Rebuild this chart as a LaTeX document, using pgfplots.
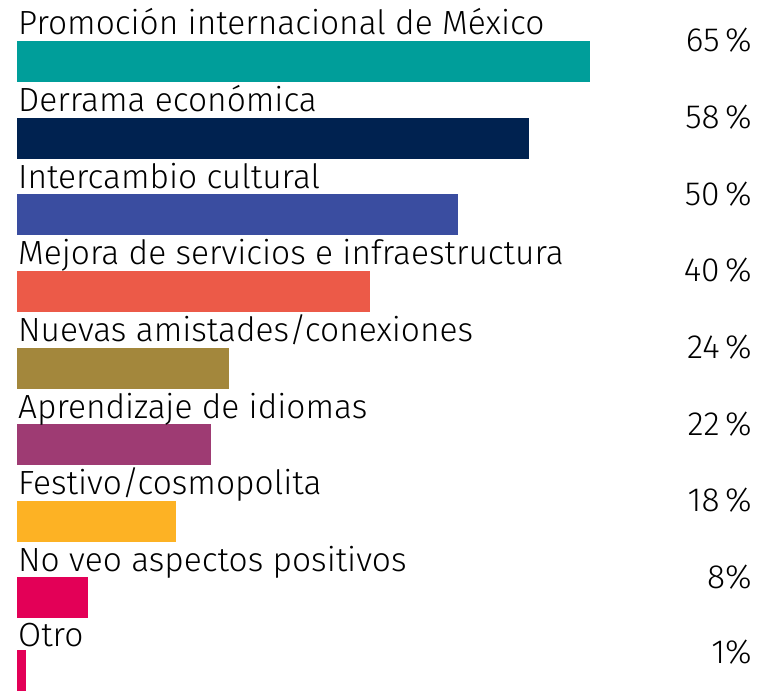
\documentclass[border=0pt]{standalone}
\usepackage{pgfplots}
\pgfplotsset{compat=1.18}
\usepackage{fontspec}
\setmainfont{Fira Sans}[UprightFont=* Light]
\definecolor{c1}{RGB}{0,158,154}
\definecolor{c2}{RGB}{0,34,80}
\definecolor{c3}{RGB}{58,77,160}
\definecolor{c4}{RGB}{236,90,72}
\definecolor{c5}{RGB}{163,135,60}
\definecolor{c6}{RGB}{158,59,115}
\definecolor{c7}{RGB}{253,178,36}
\definecolor{c8}{RGB}{227,0,87}
\definecolor{c9}{RGB}{227,0,87}
\begin{document}
\begin{tikzpicture}
\begin{axis}[
  scale only axis, width=759pt, height=691pt,
  xmin=-1.927, xmax=84.13, ymin=-691, ymax=0,
  hide axis, xbar, bar width=41pt, bar shift=0pt,
  every axis plot/.append style={draw=none},
]
\path (rel axis cs:0,0) rectangle (rel axis cs:1,1);
\addplot[fill=c1] coordinates {(65,-61.5)};
\addplot[fill=c2] coordinates {(58,-138.3)};
\addplot[fill=c3] coordinates {(50,-214.9)};
\addplot[fill=c4] coordinates {(40,-291.5)};
\addplot[fill=c5] coordinates {(24,-368.1)};
\addplot[fill=c6] coordinates {(22,-444.7)};
\addplot[fill=c7] coordinates {(18,-521.3)};
\addplot[fill=c8] coordinates {(8,-597.9)};
\addplot[fill=c9] coordinates {(1,-670.5)};
\begin{scope}[every node/.style={inner sep=0pt, font=\fontsize{33.5}{40}\selectfont}]
\node[anchor=base west] at (axis cs:0.11,-35) {Promoción internacional de México};
\node[anchor=base west] at (axis cs:0.11,-111.8) {Derrama económica};
\node[anchor=base west] at (axis cs:0.11,-188.4) {Intercambio cultural};
\node[anchor=base west] at (axis cs:0.11,-265) {Mejora de servicios e infraestructura};
\node[anchor=base west] at (axis cs:0.11,-341.6) {Nuevas amistades/conexiones};
\node[anchor=base west] at (axis cs:0.11,-418.2) {Aprendizaje de idiomas};
\node[anchor=base west] at (axis cs:0.11,-494.8) {Festivo/cosmopolita};
\node[anchor=base west] at (axis cs:0.11,-571.4) {No veo aspectos positivos};
\node[anchor=base west] at (axis cs:0.11,-646) {Otro};
\node[anchor=base east] at (axis cs:83.33,-52) {65\,\%};
\node[anchor=base east] at (axis cs:83.33,-128.8) {58\,\%};
\node[anchor=base east] at (axis cs:83.33,-205.4) {50\,\%};
\node[anchor=base east] at (axis cs:83.33,-282) {40\,\%};
\node[anchor=base east] at (axis cs:83.33,-358.6) {24\,\%};
\node[anchor=base east] at (axis cs:83.33,-435.2) {22\,\%};
\node[anchor=base east] at (axis cs:83.33,-511.8) {18\,\%};
\node[anchor=base east] at (axis cs:83.33,-588.4) {8\%};
\node[anchor=base east] at (axis cs:83.33,-663) {1\%};
\end{scope}
\end{axis}
\end{tikzpicture}
\end{document}
